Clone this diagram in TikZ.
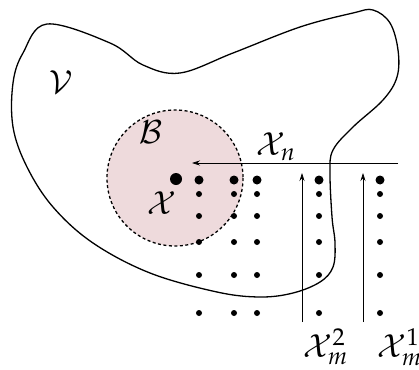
\documentclass[tikz,border=0pt]{standalone}
\usepackage{mathpazo}
\usetikzlibrary{arrows.meta}
\definecolor{ballpink}{RGB}{238,218,220}
\tikzset{
  bigdot/.style={circle,fill=black,inner sep=0pt,minimum size=9pt},
  smalldot/.style={circle,fill=black,inner sep=0pt,minimum size=6pt},
  lab/.style={inner sep=0pt,font=\fontsize{32}{34}\selectfont},
  arr/.style={-{Stealth[length=8pt,width=5pt]},line width=0.6pt}
}
\begin{document}
\begin{tikzpicture}[x=1pt,y=-1pt]
\useasboundingbox (0,0) rectangle (419,369);
% ball
\fill[ballpink] (175,178) circle (68);
\draw[dash pattern=on 3pt off 2.5pt,line width=1.3pt] (175,178) circle (68);
% region
\draw[line width=1.3pt] plot[smooth cycle,tension=0.6] coordinates {
 (47,24) (110,43) (143,65) (180,73) (233,53) (300,27) (353,13) (373,10)
 (390,23) (398,50) (397,77) (383,100) (353,127) (333,150) (330,173)
 (332,217) (335,243) (333,267) (320,282) (293,293) (260,297) (217,292)
 (150,273) (93,243) (53,207) (27,167) (13,127) (13,83) (23,53)};
% dots
\foreach \c [count=\i] in {199,234,257,319,380}{
  \node[bigdot] (t\i) at (\c,180) {};
  \foreach \r [count=\j] in {194,216,242,275,313}{
    \node[smalldot] (d\i\j) at (\c,\r) {};
  }
}
\node[circle,fill=black,inner sep=0pt,minimum size=12pt] (x) at (176,179) {};
% arrows
\coordinate (hs) at (398,163);
\coordinate (he) at (192,163);
\draw[arr] (hs) -- (he);
\coordinate (v2s) at (302,322);
\coordinate (v2e) at (302,173);
\draw[arr] (v2s) -- (v2e);
\coordinate (v1s) at (363,322);
\coordinate (v1e) at (363,173);
\draw[arr] (v1s) -- (v1e);
% labels
\node[lab] (V) at (61,82) {$\mathcal{V}$};
\node[lab] (B) at (151,132) {$\mathcal{B}$};
\node[lab] (xl) at (162,203) {$\mathcal{X}$};
\node[lab,anchor=west] (xn) at (256,147) {$\mathcal{X}_n$};
\node[lab,anchor=west] (xm2) at (303,347) {$\mathcal{X}_m^2$};
\node[lab,anchor=west] (xm1) at (377,347) {$\mathcal{X}_m^1$};
\end{tikzpicture}
\end{document}
